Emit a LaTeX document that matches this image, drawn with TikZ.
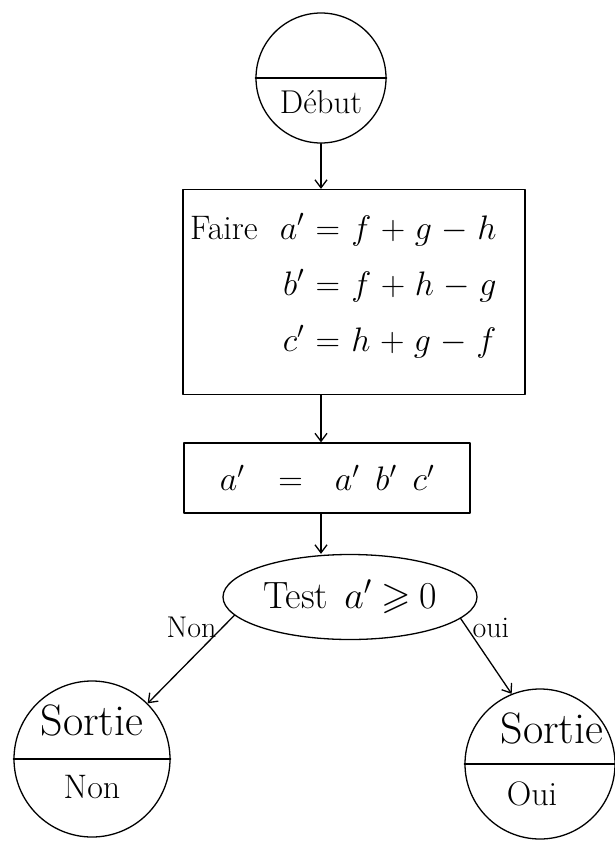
\RequirePackage{fix-cm}
\documentclass[tikz,border=0pt]{standalone}
\usepackage{amssymb}
\usetikzlibrary{shapes.geometric,arrows.meta}
\begin{document}
\begin{tikzpicture}[line join=round, line cap=round, >={Straight Barb[length=8pt,width=12pt]}, x=1pt, y=-1pt, line width=1.3pt]
	\tikzset{every node/.style={font=\fontsize{34}{40}\selectfont},
		rond/.style={draw,circle,minimum size=#1,inner sep=0pt},
		boite/.style={draw,rectangle,inner xsep=7pt,inner ysep=0pt},
		ovale/.style={draw,ellipse,inner sep=0pt,minimum width=254pt,minimum height=85pt},
		grand/.style={font=\fontsize{44}{50}\selectfont,anchor=base,inner sep=0pt},
		moyen/.style={font=\fontsize{34}{40}\selectfont,anchor=base,inner sep=0pt},
		reponse/.style={font=\fontsize{30}{36}\selectfont}}
	\useasboundingbox (0,0) rectangle (615,843);
	% debut
	\node[rond=130pt] (debut) at (321,78) {};
	\draw (debut.west)--(debut.east);
	\node[moyen,font=\fontsize{33}{40}\selectfont] (txtdebut) at ([yshift=-35pt]debut.center) {D\'ebut};
	% calculs
	\node[boite,text width=328pt,minimum height=205pt] (calcul) at (354,292)
		{\medmuskip=5mu \thickmuskip=6mu
		\begin{tabular}{@{}l@{\hspace{22pt}}r@{}l@{}}
			Faire & $a'$ & ${}= f+g-h$\\[16pt]
			& $b'$ & ${}= f+h-g$\\[16pt]
			& $c'$ & ${}= h+g-f$\\[10pt]
		\end{tabular}};
	\node[boite,minimum width=286pt,minimum height=70pt] (produit) at (327,478)
		{$a'\hspace{34pt}{=}\hspace{32pt}a'\hspace{16pt}b'\hspace{16pt}c'$};
	\node[ovale,font=\fontsize{38}{44}\selectfont] (test) at (350,597)
		{Test\hspace{16pt}$a'\hspace{10pt}{\geqslant}\hspace{8pt}0$};
	% sorties
	\node[rond=156pt] (sortienon) at (92,759) {};
	\draw (sortienon.west)--(sortienon.east);
	\node[grand] (txtsortienon) at ([yshift=24pt]sortienon.center) {Sortie};
	\node[moyen] (txtnon) at ([yshift=-39pt]sortienon.center) {Non};
	\node[rond=150pt] (sortieoui) at (540,764) {};
	\draw (sortieoui.west)--(sortieoui.east);
	\node[grand] (txtsortieoui) at ([xshift=12pt,yshift=21pt]sortieoui.center) {Sortie};
	\node[moyen] (txtoui) at ([xshift=-8pt,yshift=-41pt]sortieoui.center) {Oui};
	% fleches
	\draw[->] (debut.south)--(debut.south |- calcul.north);
	\draw[->] (calcul.south -| debut)--(produit.north -| debut);
	\draw[->] (produit.south -| debut)--(test.north -| debut);
	\draw[->] (test.189)--(sortienon.45)
		node[reponse,pos=0,anchor=east,xshift=-14pt,yshift=-12pt] {Non};
	\draw[->] (test.349)--(sortieoui.112)
		node[reponse,pos=0,anchor=west,xshift=8pt,yshift=-9pt] {oui};
\end{tikzpicture}
\end{document}
